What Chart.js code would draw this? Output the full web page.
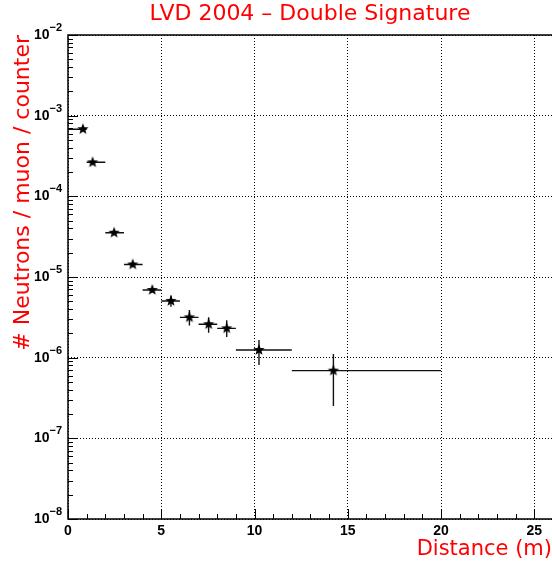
<!DOCTYPE html>
<html>
<head>
<meta charset="utf-8">
<script src="https://cdn.jsdelivr.net/npm/chart.js@4"></script>
<style>
  html, body { margin: 0; padding: 0; background: #fff; }
  #wrap { width: 552px; height: 574px; }
</style>
</head>
<body>
<div id="wrap"><canvas id="chart"></canvas></div>
<script>
// LVD 2004 - neutrons per muon per counter vs distance from the muon track
const distance     = [0.8, 1.32, 2.47, 3.47, 4.52, 5.52, 6.51, 7.54, 8.51, 10.24, 14.23];
const binLow       = [0, 1, 2, 3, 4, 5, 6, 7, 8, 9, 12];
const binHigh      = [1, 2, 3, 4, 5, 6, 7, 8, 9, 12, 20];
const neutrons     = [6.8e-4, 2.64e-4, 3.54e-5, 1.43e-5, 6.9e-6, 5.05e-6, 3.16e-6, 2.6e-6, 2.31e-6, 1.245e-6, 6.9e-7];
const neutronsHigh = [7.0e-4, 2.72e-4, 3.66e-5, 1.5e-5, 7.3e-6, 5.9e-6, 3.9e-6, 3.16e-6, 2.9e-6, 1.66e-6, 1.11e-6];
const neutronsLow  = [6.6e-4, 2.56e-4, 3.42e-5, 1.36e-5, 6.5e-6, 4.28e-6, 2.5e-6, 2.04e-6, 1.8e-6, 8.1e-7, 2.52e-7];

const xTicks = [0, 5, 10, 15, 20, 25];
const yExponents = [-8, -7, -6, -5, -4, -3, -2];

const RED = '#ff0000';
const FONT = '"Liberation Sans", Arial, sans-serif';
const TITLE_FONT = '"DejaVu Sans", sans-serif';

// filled five point star used as marker
function makeStar(r) {
    const size = Math.ceil(r * 2 + 2);
    const c = document.createElement('canvas');
    c.width = size;
    c.height = size;
    const g = c.getContext('2d');
    g.beginPath();
    for (let i = 0; i < 10; i++) {
        const a = -Math.PI / 2 + i * Math.PI / 5;
        const rad = i % 2 ? r * 0.42 : r;
        const px = size / 2 + rad * Math.cos(a);
        const py = size / 2 + rad * Math.sin(a);
        if (i === 0) g.moveTo(px, py); else g.lineTo(px, py);
    }
    g.closePath();
    g.fillStyle = '#000';
    g.fill();
    return c;
}

const errorBars = {
    id: 'errorBars',
    beforeDatasetsDraw(chart) {
        const { ctx, scales: { x, y } } = chart;
        ctx.save();
        ctx.strokeStyle = '#111';
        ctx.lineWidth = 1.4;
        for (let i = 0; i < distance.length; i++) {
            const px = x.getPixelForValue(distance[i]);
            const py = y.getPixelForValue(neutrons[i]);
            ctx.beginPath();
            ctx.moveTo(x.getPixelForValue(binLow[i]), py);
            ctx.lineTo(x.getPixelForValue(binHigh[i]), py);
            ctx.moveTo(px, y.getPixelForValue(neutronsHigh[i]));
            ctx.lineTo(px, y.getPixelForValue(neutronsLow[i]));
            ctx.stroke();
        }
        ctx.restore();
    }
};

const frame = {
    id: 'frame',
    afterDraw(chart) {
        const { ctx, chartArea: a, scales: { x, y } } = chart;
        ctx.save();
        ctx.strokeStyle = '#000';
        ctx.lineWidth = 1.5;
        ctx.beginPath();
        ctx.moveTo(a.right, a.top);
        ctx.lineTo(a.left, a.top);
        ctx.lineTo(a.left, a.bottom);
        ctx.lineTo(a.right, a.bottom);
        ctx.stroke();

        // tick marks drawn inside the frame
        ctx.lineWidth = 1;
        ctx.beginPath();
        for (let v = 0; v <= x.max; v++) {
            const px = Math.round(x.getPixelForValue(v)) + 0.5;
            const len = v % 5 === 0 ? 10 : 5;
            ctx.moveTo(px, a.bottom);
            ctx.lineTo(px, a.bottom - len);
        }
        for (let e = -8; e < -2; e++) {
            for (let m = 1; m <= 10; m++) {
                const py = Math.round(y.getPixelForValue(m * Math.pow(10, e))) + 0.5;
                const len = (m === 1 || m === 10) ? 10 : 5;
                ctx.moveTo(a.left, py);
                ctx.lineTo(a.left + len, py);
            }
        }
        ctx.stroke();

        ctx.fillStyle = '#000';

        // x tick labels
        ctx.font = 'bold 14px ' + FONT;
        ctx.textAlign = 'center';
        ctx.textBaseline = 'top';
        xTicks.forEach(v => {
            ctx.fillText(String(v), x.getPixelForValue(v), a.bottom + 5);
        });

        // y tick labels 10^n
        ctx.textBaseline = 'middle';
        yExponents.forEach(e => {
            const py = y.getPixelForValue(Math.pow(10, e));
            ctx.font = 'bold 11px ' + FONT;
            ctx.textAlign = 'left';
            const exp = '\u2212' + Math.abs(e);
            const expW = ctx.measureText(exp).width;
            const expX = a.left - 6 - expW;
            ctx.fillText(exp, expX, py - 7);
            ctx.font = 'bold 14px ' + FONT;
            ctx.textAlign = 'right';
            ctx.fillText('10', expX, py);
        });

        // main title
        ctx.fillStyle = RED;
        ctx.font = '22px ' + TITLE_FONT;
        ctx.textAlign = 'center';
        ctx.fillText('LVD 2004 \u2013 Double Signature', 310, 14);
        ctx.restore();
    }
};

new Chart(document.getElementById('chart'), {
    type: 'scatter',
    data: {
        datasets: [{
            label: 'LVD 2004',
            data: distance.map((d, i) => ({ x: d, y: neutrons[i] })),
            pointStyle: makeStar(6),
            pointRadius: 6,
            pointHoverRadius: 6,
            showLine: false,
        }]
    },
    options: {
        responsive: true,
        maintainAspectRatio: false,
        animation: false,
        events: [],
        layout: { autoPadding: false, padding: { top: 35, right: 0, left: 0, bottom: 0 } },
        plugins: {
            legend: { display: false },
            title: { display: false },
            tooltip: { enabled: false },
        },
        scales: {
            x: {
                type: 'linear',
                min: 0,
                max: 25.95,
                afterBuildTicks: s => { s.ticks = xTicks.map(v => ({ value: v })); },
                afterFit: s => { s.height = 55; },
                grid: { color: '#000', lineWidth: 1, drawTicks: false },
                border: { display: false, dash: [1, 2] },
                ticks: { display: false },
                title: {
                    display: true,
                    text: 'Distance (m)',
                    align: 'end',
                    color: RED,
                    font: { family: TITLE_FONT, size: 21 },
                    padding: { top: 0, bottom: 12 },
                }
            },
            y: {
                type: 'logarithmic',
                min: 1e-8,
                max: 1e-2,
                afterBuildTicks: s => { s.ticks = yExponents.map(e => ({ value: Number('1e' + e) })); },
                afterFit: s => { s.width = 68; },
                grid: { color: '#000', lineWidth: 1, drawTicks: false },
                border: { display: false, dash: [1, 2] },
                ticks: { display: false },
                title: {
                    display: true,
                    text: '# Neutrons / muon / counter',
                    align: 'end',
                    color: RED,
                    font: { family: TITLE_FONT, size: 22 },
                    padding: { top: 10, bottom: 0 },
                }
            }
        }
    },
    plugins: [errorBars, frame]
});
</script>
</body>
</html>
